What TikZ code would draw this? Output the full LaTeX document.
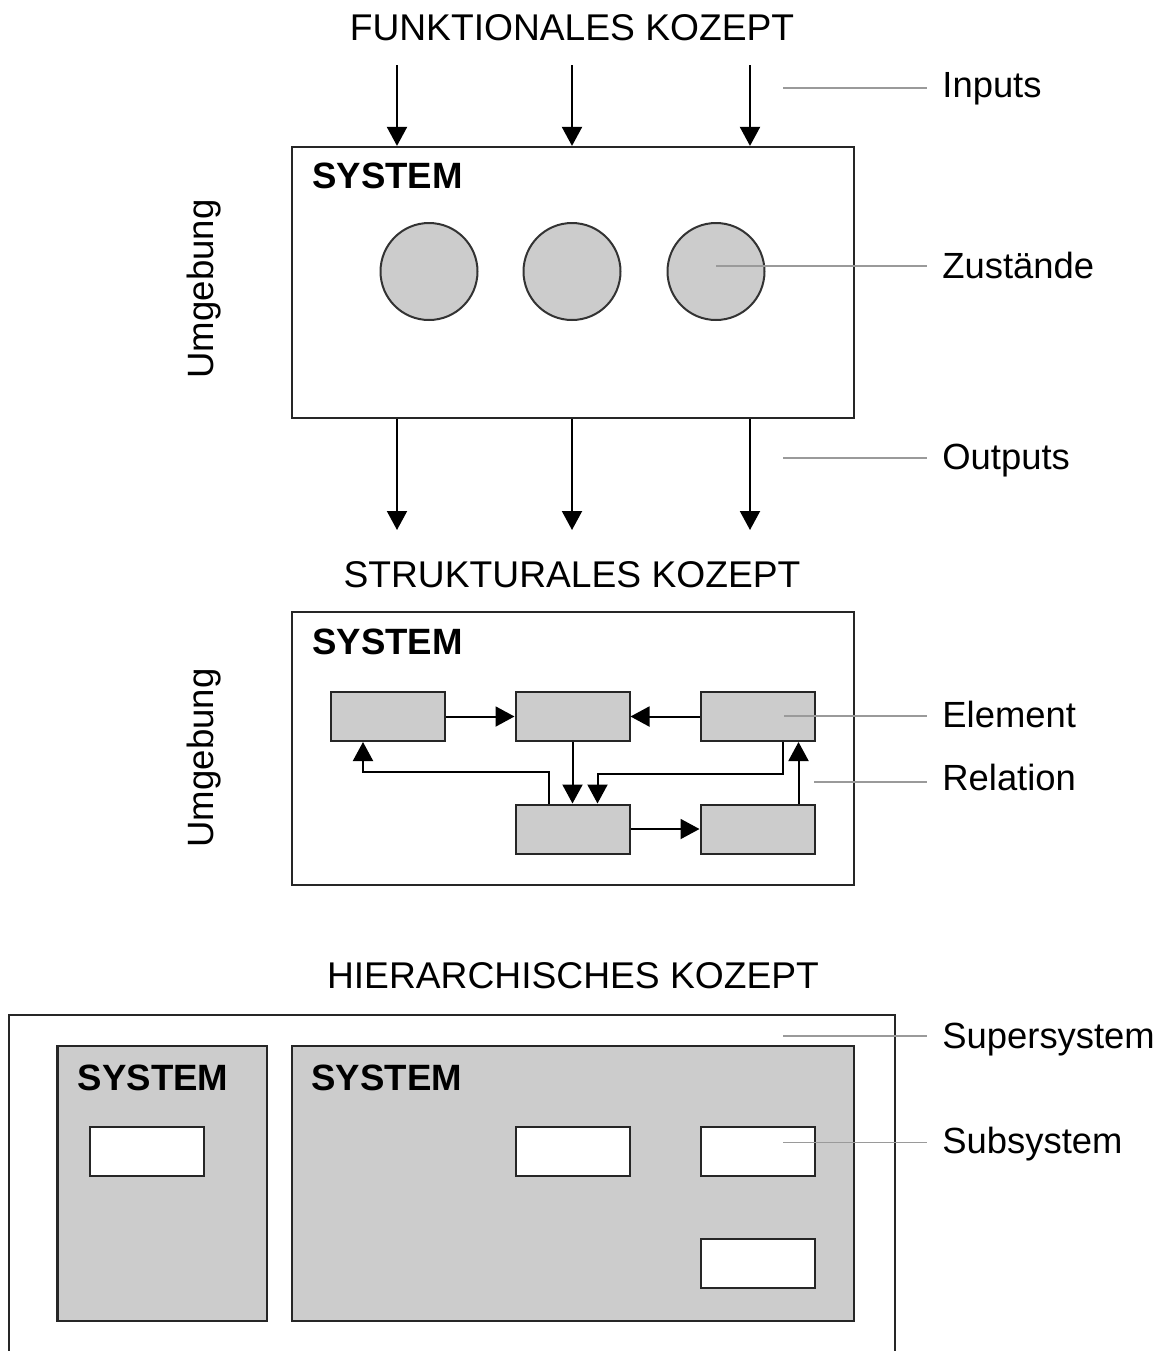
\documentclass[tikz,border=0pt]{standalone}
\usepackage{fontspec}
\setmainfont{Liberation Sans}
\usetikzlibrary{arrows.meta,calc}
\definecolor{boxgray}{HTML}{CCCCCC}
\definecolor{leadgray}{HTML}{9A9A9A}

\begin{document}
\begin{tikzpicture}[x=0.5pt,y=-0.5pt,
  frame/.style={draw=black!85,line width=1.1pt,inner sep=0,rectangle},
  elem/.style={draw=black!85,line width=1pt,fill=boxgray,rectangle,
    minimum width=57pt,minimum height=24.5pt,inner sep=0},
  subsys/.style={elem,fill=white},
  state/.style={circle,draw=black!80,line width=1pt,fill=boxgray,
    minimum size=48.5pt,inner sep=0},
  arr/.style={line width=1pt,-{Triangle[length=9.5pt,width=10pt]}},
  lead/.style={draw=leadgray,line width=0.8pt},
  ttl/.style={font=\fontsize{18.6}{22}\selectfont,inner sep=0,anchor=base},
  lbl/.style={font=\fontsize{18.2}{22}\selectfont,inner sep=0,anchor=base west},
  sysname/.style={font=\fontsize{18.3}{22}\selectfont\bfseries,inner sep=0,anchor=base west},
  env/.style={font=\fontsize{18.3}{22}\selectfont,inner sep=0,rotate=90,anchor=base}
]
\useasboundingbox (0,0) rectangle (1170,1351);
\clip (0,0) rectangle (1170,1351);

% ---------- functional concept ----------
\node[ttl] (t1) at (572,40) {FUNKTIONALES KOZEPT};
\node[frame,minimum width=281pt,minimum height=135.5pt] (fsys) at (573,282.5) {};
\node[sysname] (fname) at (312,188) {SYSTEM};
\node[env] (env1) at (213,289) {Umgebung};
\node[state] (s1) at (429,271.5) {};
\node[state] (s2) at (572,271.5) {};
\node[state] (s3) at (716,271.5) {};

\coordinate (i1) at (397,65);
\coordinate (i2) at (572,65);
\coordinate (i3) at (750,65);
\foreach \c in {i1,i2,i3}
  \draw[arr] (\c) -- (\c |- fsys.north);

\coordinate (o1) at (397,530);
\coordinate (o2) at (572,530);
\coordinate (o3) at (750,530);
\foreach \c in {o1,o2,o3}
  \draw[arr] (fsys.south -| \c) -- (\c);

\node[lbl] (linp) at (942,97) {Inputs};
\node[lbl] (lzus) at (942,278) {Zustände};
\node[lbl] (lout) at (942,469) {Outputs};
\coordinate (cinp) at (783,88);
\coordinate (czus) at (716,266);
\coordinate (cout) at (783,458);
\draw[lead] (cinp) -- ($(cinp -| linp.west)+(-15,0)$);
\draw[lead] (czus) -- ($(czus -| lzus.west)+(-15,0)$);
\draw[lead] (cout) -- ($(cout -| lout.west)+(-15,0)$);

% ---------- structural concept ----------
\node[ttl] (t2) at (572,587) {STRUKTURALES KOZEPT};
\node[frame,minimum width=281pt,minimum height=136.5pt] (ssys) at (573,748.5) {};
\node[sysname] (sname) at (312,654) {SYSTEM};
\node[env] (env2) at (213,758) {Umgebung};

\node[elem] (e1) at (388,716.5) {};
\node[elem] (e2) at (572.5,716.5) {};
\node[elem] (e3) at (757.5,716.5) {};
\node[elem] (e4) at (572.5,829) {};
\node[elem] (e5) at (757.5,829) {};

\draw[arr] (e1) -- (e2);
\draw[arr] (e3) -- (e2);
\draw[arr] (e2) -- (e4);
\draw[arr] (e4) -- (e5);
\draw[arr] ([xshift=20.5pt]e5.north) -- ([xshift=20.5pt]e3.south);
\draw[arr] ([xshift=12.5pt]e3.south) -- ++(0,32) -| ([xshift=12.5pt]e4.north);
\draw[arr] ([xshift=-12pt]e4.north) -- ++(0,-32) -| ([xshift=-12.5pt]e1.south);

\node[lbl] (lel) at (942,727) {Element};
\node[lbl] (lrel) at (942,790) {Relation};
\coordinate (cel) at (784,716);
\coordinate (crel) at (814,782);
\draw[lead] (cel) -- ($(cel -| lel.west)+(-15,0)$);
\draw[lead] (crel) -- ($(crel -| lrel.west)+(-15,0)$);

% ---------- hierarchical concept ----------
\node[ttl] (t3) at (573,988) {HIERARCHISCHES KOZEPT};
\node[frame,minimum width=443pt,minimum height=192.5pt] (sup) at (452,1207.5) {};
\node[frame,fill=boxgray,minimum width=104.75pt,minimum height=137.35pt] (hl) at (162.25,1183.35) {};
\node[frame,fill=boxgray,minimum width=281.15pt,minimum height=137.35pt] (hr) at (572.85,1183.35) {};
\node[sysname] (hlname) at (77.5,1090) {SYSTEM};
\node[sysname] (hrname) at (311,1090) {SYSTEM};

\node[subsys] (u1) at (147.3,1151.2) {};
\node[subsys] (u2) at (573,1151.2) {};
\node[subsys] (u3) at (757.5,1151.2) {};
\node[subsys] (u4) at (757.5,1263) {};

\node[lbl] (lsup) at (942,1048) {Supersystem};
\node[lbl] (lsub) at (942,1153) {Subsystem};
\coordinate (csup) at (783,1036);
\coordinate (csub) at (783,1142.5);
\draw[lead] (csup) -- ($(csup -| lsup.west)+(-15,0)$);
\draw[lead] (csub) -- ($(csub -| lsub.west)+(-15,0)$);
\end{tikzpicture}
\end{document}
